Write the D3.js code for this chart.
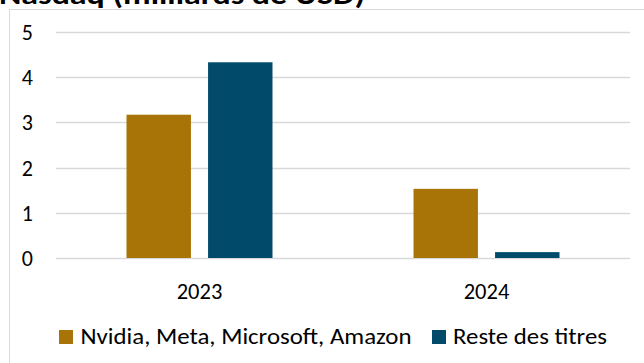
<!DOCTYPE html>
<html>
<head>
<meta charset="utf-8">
<script src="https://cdn.jsdelivr.net/npm/d3@7"></script>
<style>
  html, body { margin: 0; padding: 0; background: #fff; overflow: hidden; }
  svg { display: block; font-family: Carlito, Lato, "Open Sans", sans-serif; }
</style>
</head>
<body>
<svg id="chart" width="644" height="363"></svg>
<script>
// data
const title = "Nasdaq (milliards de USD)";
const categories = ["2023", "2024"];
const seriesNames = ["Nvidia, Meta, Microsoft, Amazon", "Reste des titres"];
const seriesColors = ["#A87407", "#014A69"];
const bigTech = [3.17, 1.53];
const others = [4.33, 0.13];
const yTicks = [0, 1, 2, 3, 4, 5];

const svg = d3.select("#chart");

const rows = categories.map((c, i) => ({ cat: c, values: [bigTech[i], others[i]] }));

// frame of the chart area (cut at right and bottom in the original)
svg.append("rect")
  .attr("x", 9.5).attr("y", 9.5)
  .attr("width", 800).attr("height", 600)
  .attr("fill", "none")
  .attr("stroke", "#d9d9d9");

// title, partly cut at the top like the original
svg.append("text")
  .attr("x", -1).attr("y", 4)
  .attr("font-weight", "bold")
  .attr("font-size", 29)
  .attr("fill", "#000")
  .attr("textLength", 366)
  .attr("lengthAdjust", "spacingAndGlyphs")
  .text(title);

const plotLeft = 56, plotRight = 630;
const y = d3.scaleLinear().domain([0, 5]).range([258, 32]);
const x0 = d3.scaleBand().domain(categories).range([plotLeft, plotRight]);
const groupW = 146;
const x1 = d3.scaleBand().domain(d3.range(seriesNames.length)).range([0, groupW]).paddingInner(0.21);

// gridlines
svg.append("g")
  .selectAll("line")
  .data(yTicks)
  .join("line")
  .attr("x1", plotLeft).attr("x2", plotRight)
  .attr("y1", d => Math.round(y(d)) + 0.5)
  .attr("y2", d => Math.round(y(d)) + 0.5)
  .attr("stroke", "#d9d9d9")
  .attr("stroke-width", 1.3);

// y tick labels
svg.append("g")
  .selectAll("text")
  .data(yTicks)
  .join("text")
  .attr("x", 33)
  .attr("y", d => y(d))
  .attr("dy", "0.36em")
  .attr("text-anchor", "end")
  .attr("font-size", 22)
  .attr("fill", "#000")
  .text(d => d);

// bars
const groups = svg.append("g")
  .selectAll("g")
  .data(rows)
  .join("g")
  .attr("transform", d => `translate(${x0(d.cat) + (x0.bandwidth() - groupW) / 2},0)`);

groups.selectAll("rect")
  .data(d => d.values.map((v, i) => ({ v, i })))
  .join("rect")
  .attr("x", d => x1(d.i))
  .attr("width", x1.bandwidth())
  .attr("y", d => y(d.v))
  .attr("height", d => y(0) - y(d.v))
  .attr("fill", d => seriesColors[d.i]);

// x labels
svg.append("g")
  .selectAll("text")
  .data(categories)
  .join("text")
  .attr("x", d => x0(d) + x0.bandwidth() / 2)
  .attr("y", 298.5)
  .attr("text-anchor", "middle")
  .attr("font-size", 22.5)
  .attr("fill", "#000")
  .text(d => d);

// legend
const legendItems = [
  { sx: 59, tx: 80.5, w: 331 },
  { sx: 432, tx: 453, w: 154 }
];
const legend = svg.append("g")
  .selectAll("g")
  .data(seriesNames)
  .join("g");
legend.append("rect")
  .attr("x", (d, i) => legendItems[i].sx)
  .attr("y", 330)
  .attr("width", 14).attr("height", 14)
  .attr("fill", (d, i) => seriesColors[i]);
legend.append("text")
  .attr("x", (d, i) => legendItems[i].tx)
  .attr("y", 343.5)
  .attr("font-size", 22.5)
  .attr("fill", "#000")
  .attr("textLength", (d, i) => legendItems[i].w)
  .attr("lengthAdjust", "spacingAndGlyphs")
  .text(d => d);
</script>
</body>
</html>
